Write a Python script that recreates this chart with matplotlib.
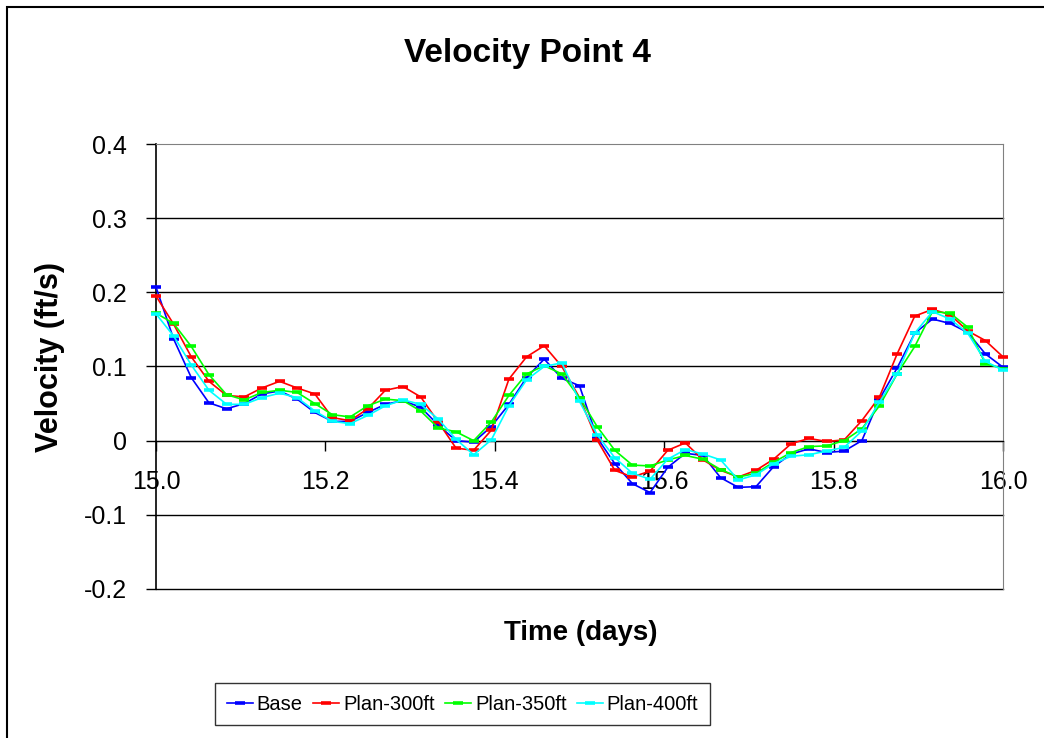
import numpy as np
import matplotlib
matplotlib.use("Agg")
import matplotlib.pyplot as plt
from matplotlib.patches import Rectangle

plt.rcParams['font.family'] = ['Liberation Sans', 'DejaVu Sans']

# sample times: every half hour from day 15 to day 16
time_days = np.linspace(15.0, 16.0, 49)

base = [0.207, 0.137, 0.085, 0.051, 0.043, 0.050, 0.063, 0.067, 0.056, 0.038,
        0.026, 0.026, 0.038, 0.049, 0.054, 0.045, 0.021, 0.000, -0.002, 0.019,
        0.049, 0.085, 0.110, 0.084, 0.074, 0.004, -0.031, -0.058, -0.070, -0.036,
        -0.017, -0.020, -0.050, -0.063, -0.062, -0.035, -0.018, -0.011, -0.016, -0.014,
        0.000, 0.056, 0.098, 0.145, 0.164, 0.158, 0.146, 0.117, 0.099]

plan_300 = [0.195, 0.157, 0.113, 0.080, 0.061, 0.059, 0.071, 0.080, 0.071, 0.063,
            0.031, 0.027, 0.043, 0.068, 0.073, 0.059, 0.025, -0.010, -0.013, 0.014,
            0.083, 0.113, 0.128, 0.100, 0.058, 0.001, -0.040, -0.049, -0.041, -0.013,
            -0.003, -0.026, -0.040, -0.049, -0.040, -0.025, -0.004, 0.003, -0.001, 0.001,
            0.027, 0.059, 0.117, 0.168, 0.177, 0.170, 0.148, 0.135, 0.113]

plan_350 = [0.172, 0.158, 0.127, 0.089, 0.062, 0.055, 0.065, 0.068, 0.065, 0.050,
            0.035, 0.032, 0.047, 0.056, 0.054, 0.040, 0.017, 0.012, 0.000, 0.025,
            0.061, 0.090, 0.101, 0.090, 0.058, 0.019, -0.013, -0.033, -0.034, -0.026,
            -0.020, -0.025, -0.039, -0.049, -0.044, -0.029, -0.016, -0.008, -0.007, 0.000,
            0.016, 0.047, 0.090, 0.127, 0.174, 0.172, 0.153, 0.104, 0.097]

plan_400 = [0.171, 0.141, 0.102, 0.068, 0.049, 0.049, 0.058, 0.064, 0.058, 0.040,
            0.026, 0.023, 0.034, 0.047, 0.055, 0.049, 0.029, 0.002, -0.019, 0.001,
            0.047, 0.082, 0.100, 0.105, 0.053, 0.008, -0.023, -0.044, -0.052, -0.025,
            -0.012, -0.018, -0.026, -0.053, -0.046, -0.031, -0.021, -0.019, -0.014, -0.009,
            0.013, 0.052, 0.090, 0.145, 0.174, 0.164, 0.145, 0.107, 0.095]

series_names = ['Base', 'Plan-300ft', 'Plan-350ft', 'Plan-400ft']
series_colors = ['#0000FF', '#FF0000', '#00FF00', '#00FFFF']

x_ticks = [15.0, 15.2, 15.4, 15.6, 15.8, 16.0]
x_labels = ['15.0', '15.2', '15.4', '15.6', '15.8', '16.0']
y_ticks = [-0.2, -0.1, 0.0, 0.1, 0.2, 0.3, 0.4]
y_labels = ['-0.2', '-0.1', '0', '0.1', '0.2', '0.3', '0.4']

fig = plt.figure(figsize=(10.44, 7.38), dpi=100)
ax = fig.add_axes([156 / 1044, 1 - 589 / 738, (1003 - 156) / 1044, (589 - 144) / 738])

for yv in y_ticks[:-1]:
    ax.axhline(yv, color='black', lw=1.0, zorder=1, clip_on=False)

for name, vals, col in zip(series_names, [base, plan_300, plan_350, plan_400], series_colors):
    ax.plot(time_days, vals, color=col, lw=1.2, marker='_', markersize=7.5,
            markeredgewidth=2.6, label=name, zorder=3, clip_on=False)

ax.set_xlim(15.0, 16.0)
ax.set_ylim(-0.2, 0.4)

ax.spines['bottom'].set_position(('data', 0))
ax.spines['bottom'].set_color('black')
ax.spines['left'].set_color('black')
ax.spines['left'].set_linewidth(1.2)
ax.spines['top'].set_color('#808080')
ax.spines['right'].set_color('#808080')

ax.set_xticks(x_ticks)
ax.set_xticklabels(x_labels)
ax.set_yticks(y_ticks)
ax.set_yticklabels(y_labels)
ax.tick_params(axis='x', direction='out', length=7, width=1, pad=14, labelsize=18)
ax.tick_params(axis='y', direction='out', length=7, width=1, pad=14, labelsize=18)

fig.text(0.505, 0.927, 'Velocity Point 4', ha='center', va='center',
         fontsize=24, fontweight='bold')
fig.text(0.048, 0.516, 'Velocity (ft/s)', ha='center', va='center',
         rotation=90, fontsize=22, fontweight='bold')
fig.text(0.556, 0.142, 'Time (days)', ha='center', va='center',
         fontsize=20, fontweight='bold')

leg = fig.legend(loc='center', bbox_to_anchor=(0.443, 0.046), ncol=4,
                 frameon=True, fancybox=False, edgecolor='black',
                 prop={'size': 14.5},
                 handlelength=1.3, handletextpad=0.2, columnspacing=0.5,
                 borderpad=0.55)
leg.get_frame().set_linewidth(1.0)

# outer chart border (right and bottom edges fall outside the picture)
fig.add_artist(Rectangle((7 / 1044, -0.5), 1.2, 0.5 + (1 - 7 / 738),
                         transform=fig.transFigure, fill=False, ec='black', lw=1.5))

fig.savefig('out.png', dpi=100)
